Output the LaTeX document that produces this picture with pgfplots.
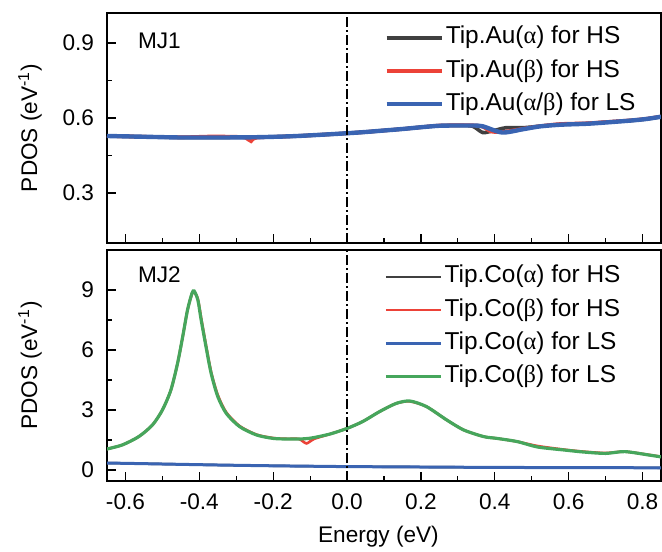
\documentclass[border=0pt]{standalone}
\usepackage{fontspec}
\setmainfont{Liberation Sans}
\newfontfamily\grk{Liberation Serif}
\usepackage{pgfplots}
\pgfplotsset{compat=1.18}
\definecolor{cblack}{RGB}{64,64,64}
\definecolor{cred}{RGB}{236,66,56}
\definecolor{cblue}{RGB}{58,100,178}
\definecolor{cgreen}{RGB}{70,166,92}

\pgfplotsset{
  pdos/.style={
    scale only axis,
    width=277pt,
    xmin=-0.65, xmax=0.85,
    xtick={-0.6,-0.4,...,0.8},
    minor x tick num=1,
    minor y tick num=1,
    tick align=inside,
    xtick pos=bottom, ytick pos=left,
    major tick length=4.5pt, minor tick length=2.5pt,
    tick style={black, line width=0.6pt},
    axis line style={line width=0.6pt},
    tick label style={font=\fontsize{11.3}{13}\selectfont},
    /pgf/number format/assume math mode=true,
    /pgf/number format/fixed,
    /pgf/number format/precision=1,
    xticklabel style={yshift=-3pt},
    yticklabel style={xshift=-3pt},
    every axis y label/.style={at={(axis description cs:-0.139,0.5)}, rotate=90, anchor=center, font=\fontsize{11.3}{13}\selectfont},
    every axis x label/.style={at={(axis description cs:0.49,-0.2424)}, anchor=center, font=\fontsize{11.3}{13}\selectfont},
    ylabel={PDOS (eV\textsuperscript{-1})},
    legend cell align=left,
    legend style={draw=none, fill=none, anchor=north west, inner sep=0pt,
      font=\fontsize{12.2}{13}\selectfont, row sep=3.6pt,
      nodes={inner sep=1pt, text height=8.5pt, text depth=2.5pt},
      /tikz/every even column/.append style={column sep=1.5pt}},
    legend image code/.code={\draw[##1] (-1pt,0pt) -- (26.5pt,0pt);},
    every axis plot/.append style={smooth, tension=0.45},
  }
}

\begin{document}
\begin{tikzpicture}
\useasboundingbox (-53.5pt,-154pt) rectangle (277.5pt,121.5pt);

% upper panel: MJ1
\begin{axis}[pdos, name=top, at={(0,0)}, anchor=south west,
  height=115pt,
  ymin=0.1, ymax=1.02,
  ytick={0.3,0.6,0.9},
  xticklabels={},
  legend style={at={(axis description cs:0.5,0.950)}},
]
\addplot[cblack, line width=1.8pt] coordinates {
 (-0.65,0.528) (-0.55,0.525) (-0.45,0.522) (-0.35,0.522) (-0.25,0.523)
 (-0.15,0.527) (-0.07,0.533) (0.00,0.539) (0.05,0.544) (0.10,0.550)
 (0.15,0.556) (0.20,0.563) (0.25,0.569) (0.30,0.570) (0.34,0.567)
 (0.367,0.542) (0.393,0.548) (0.43,0.561) (0.476,0.561) (0.52,0.567)
 (0.576,0.574) (0.65,0.578) (0.70,0.583) (0.77,0.590) (0.81,0.596) (0.85,0.605)
};
\addlegendentry{Tip.Au({\grk α}) for HS}
\addplot[cred, line width=1.8pt] coordinates {
 (-0.65,0.528) (-0.55,0.525) (-0.45,0.523) (-0.37,0.526) (-0.30,0.525)
 (-0.275,0.521) (-0.26,0.507) (-0.245,0.521) (-0.15,0.527) (-0.07,0.533)
 (0.00,0.539) (0.05,0.544) (0.10,0.550) (0.15,0.556) (0.20,0.563)
 (0.25,0.570) (0.34,0.571) (0.367,0.565) (0.39,0.546) (0.42,0.544)
 (0.476,0.557) (0.52,0.567) (0.576,0.576) (0.65,0.579) (0.70,0.584)
 (0.77,0.591) (0.81,0.597) (0.85,0.606)
};
\addlegendentry{Tip.Au({\grk β}) for HS}
\addplot[cblue, line width=2.2pt] coordinates {
 (-0.65,0.528) (-0.55,0.525) (-0.45,0.522) (-0.35,0.522) (-0.25,0.523)
 (-0.15,0.527) (-0.07,0.533) (0.00,0.539) (0.05,0.544) (0.10,0.550)
 (0.15,0.556) (0.20,0.563) (0.25,0.569) (0.30,0.570) (0.34,0.570)
 (0.367,0.567) (0.42,0.542) (0.476,0.555) (0.52,0.566) (0.576,0.573)
 (0.65,0.577) (0.70,0.582) (0.77,0.590) (0.81,0.596) (0.85,0.605)
};
\addlegendentry{Tip.Au({\grk α}/{\grk β}) for LS}
\addplot[black, line width=0.6pt, sharp plot, dash pattern=on 5pt off 1.5pt on 1pt off 1.5pt, forget plot]
  coordinates {(0,0.1) (0,1.02)};
\node[anchor=west, font=\fontsize{11.3}{13}\selectfont] at (axis cs:-0.585,0.91) {MJ1};
\end{axis}

% lower panel: MJ2
\begin{axis}[pdos, name=bot, at={(0,-3.5pt)}, anchor=north west,
  height=115.5pt,
  ymin=-0.55, ymax=11,
  ytick={0,3,6,9},
  /pgf/number format/precision=0,
  xticklabel={\pgfmathprintnumber[fixed,precision=1,fixed zerofill]{\tick}},
  xlabel={Energy (eV)},
  legend style={at={(axis description cs:0.5,0.942)}},
]
\addplot[cblack, line width=1.2pt] coordinates {
 (-0.65,0.35) (-0.5,0.30) (-0.35,0.25) (-0.2,0.21) (-0.05,0.18) (0.0,0.17)
 (0.2,0.15) (0.4,0.13) (0.6,0.12) (0.85,0.11)
};
\addlegendentry{Tip.Co({\grk α}) for HS}
\addplot[cred, line width=1.3pt] coordinates {
 (-0.655,1.03) (-0.609,1.25) (-0.564,1.67) (-0.527,2.25) (-0.50,3.00)
 (-0.477,4.00) (-0.459,5.33) (-0.445,6.67) (-0.432,8.00) (-0.42,8.80)
 (-0.414,8.90) (-0.404,8.55) (-0.395,7.60) (-0.382,6.25) (-0.368,4.90)
 (-0.35,3.75) (-0.327,2.88) (-0.291,2.20) (-0.245,1.77) (-0.20,1.60)
 (-0.163,1.56) (-0.13,1.55) (-0.11,1.33) (-0.09,1.55) (-0.046,1.80) (0.0,2.08)
 (0.042,2.42) (0.088,2.92) (0.133,3.33) (0.17,3.43) (0.215,3.17)
 (0.27,2.50) (0.316,2.00) (0.37,1.67) (0.406,1.58) (0.461,1.42)
 (0.516,1.20) (0.588,1.02) (0.64,0.92) (0.70,0.85) (0.752,0.92)
 (0.817,0.76) (0.852,0.66)
};
\addlegendentry{Tip.Co({\grk β}) for HS}
\addplot[cblue, line width=1.5pt] coordinates {
 (-0.65,0.35) (-0.5,0.30) (-0.35,0.25) (-0.2,0.21) (-0.05,0.18) (0.0,0.17)
 (0.2,0.15) (0.4,0.13) (0.6,0.12) (0.85,0.11)
};
\addlegendentry{Tip.Co({\grk α}) for LS}
\addplot[cgreen, line width=1.6pt] coordinates {
 (-0.655,1.03) (-0.609,1.25) (-0.564,1.67) (-0.527,2.25) (-0.50,3.00)
 (-0.477,4.00) (-0.459,5.33) (-0.445,6.67) (-0.432,8.00) (-0.42,8.83)
 (-0.414,8.95) (-0.404,8.50) (-0.395,7.50) (-0.382,6.17) (-0.368,4.83)
 (-0.35,3.67) (-0.327,2.83) (-0.291,2.17) (-0.245,1.75) (-0.20,1.58)
 (-0.163,1.55) (-0.13,1.55) (-0.11,1.57) (-0.09,1.62) (-0.046,1.80) (0.0,2.08)
 (0.042,2.42) (0.088,2.92) (0.133,3.33) (0.17,3.45) (0.215,3.17)
 (0.27,2.50) (0.316,2.00) (0.37,1.67) (0.406,1.58) (0.461,1.42)
 (0.516,1.15) (0.588,1.00) (0.64,0.90) (0.70,0.83) (0.752,0.92)
 (0.817,0.75) (0.852,0.65)
};
\addlegendentry{Tip.Co({\grk β}) for LS}
\addplot[black, line width=0.6pt, sharp plot, dash pattern=on 5pt off 1.5pt on 1pt off 1.5pt, forget plot]
  coordinates {(0,-0.55) (0,11)};
\node[anchor=west, font=\fontsize{11.3}{13}\selectfont] at (axis cs:-0.585,9.75) {MJ2};
\end{axis}
\end{tikzpicture}
\end{document}
